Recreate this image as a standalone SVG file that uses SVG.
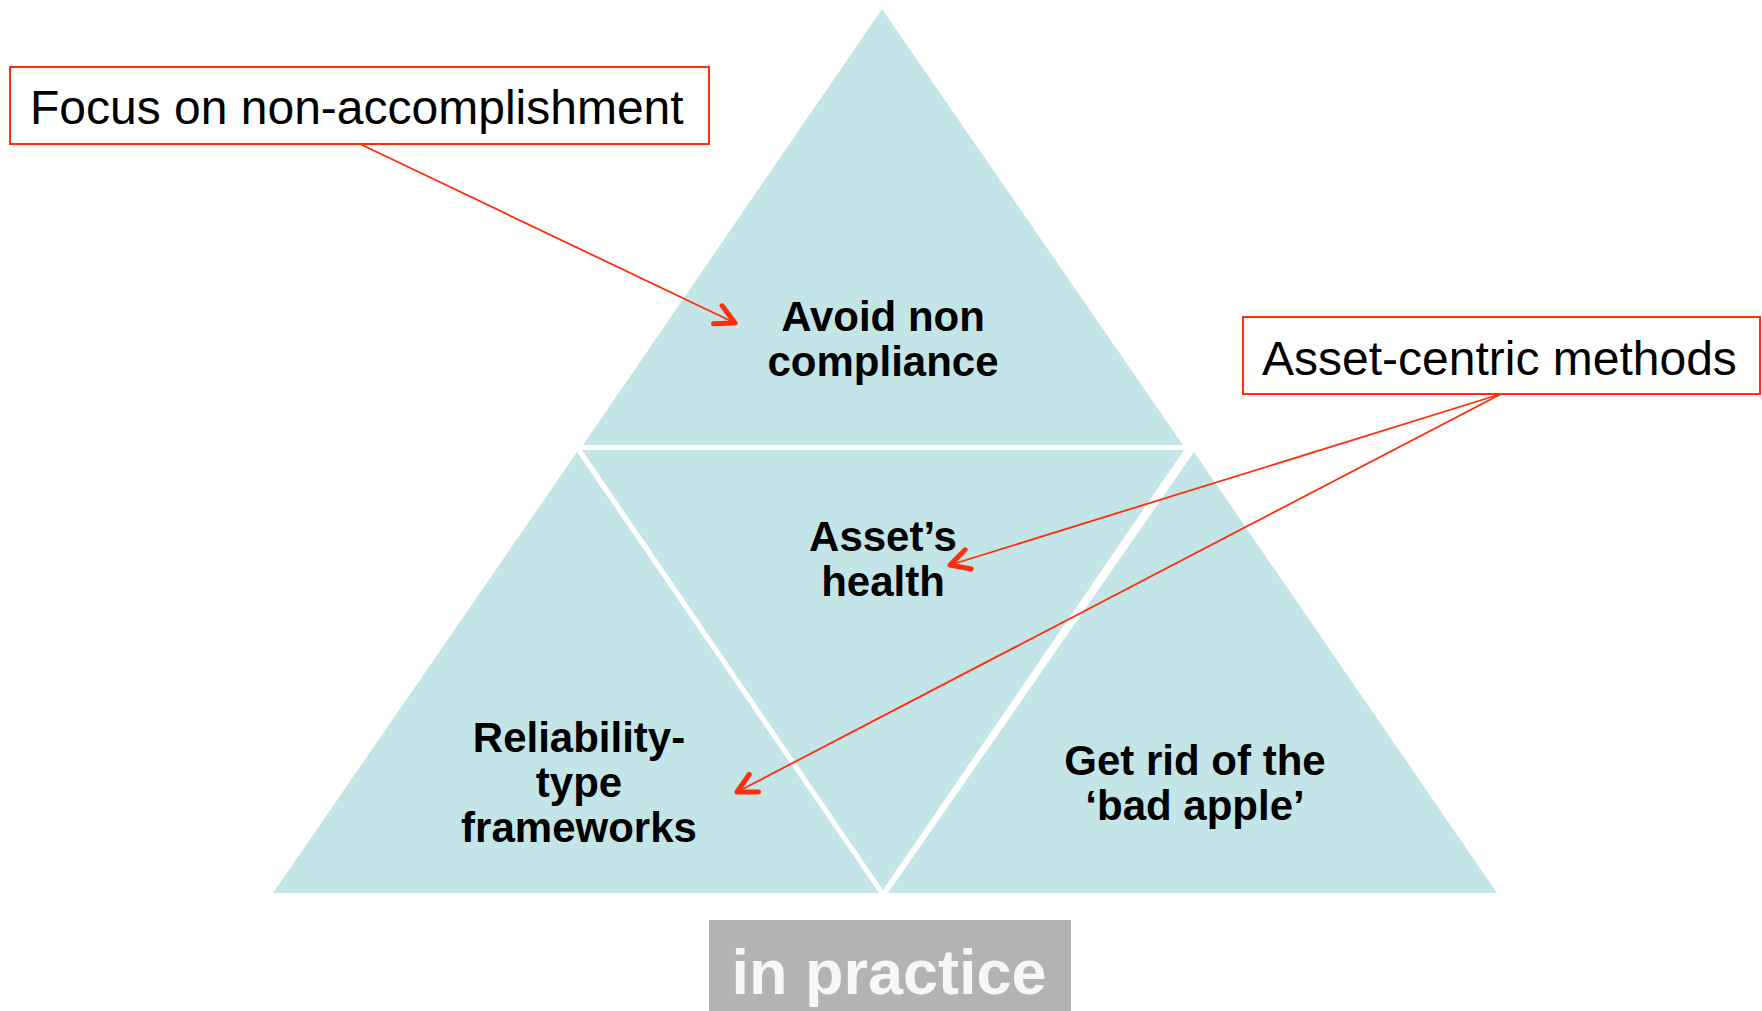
<svg xmlns="http://www.w3.org/2000/svg" width="1762" height="1011" viewBox="0 0 1762 1011">
<style>
.tri{fill:#C4E5E8;stroke:none}
.lbl{font-family:"Liberation Sans",Arial,sans-serif;font-weight:bold;font-size:42px;fill:#000;text-anchor:middle}
.box{fill:#fff;stroke:#FF2D0A;stroke-width:2}
.btxt{font-family:"Liberation Sans",Arial,sans-serif;font-size:48px;fill:#000}
.conn{fill:none;stroke:#FF2D0A;stroke-width:1.8}
</style>
<defs>
<marker id="arr" markerUnits="userSpaceOnUse" markerWidth="40" markerHeight="40" viewBox="-30 -20 40 40" refX="0" refY="0" orient="auto">
<path d="M-19,-10 L0,0 L-19,10" fill="none" stroke="#FF2D0A" stroke-width="5" stroke-linecap="round" stroke-linejoin="round"/>
</marker>
</defs>
<rect width="1762" height="1011" fill="#fff"/>
<g id="node-top">
<polygon class="tri" points="882,9 583,445 1183,445"/>
<text class="lbl" x="883" y="331">Avoid non</text>
<text class="lbl" x="883" y="376">compliance</text>
</g>
<g id="node-middle">
<polygon class="tri" points="582,450 1184,450 883,890"/>
<text class="lbl" x="883" y="551">Asset’s</text>
<text class="lbl" x="883" y="596">health</text>
</g>
<g id="node-left">
<polygon class="tri" points="577,452 273,893 879,893"/>
<text class="lbl" x="579" y="752">Reliability-</text>
<text class="lbl" x="579" y="797">type</text>
<text class="lbl" x="579" y="842">frameworks</text>
</g>
<g id="node-right">
<polygon class="tri" points="1194,452 888,893 1497,893"/>
<text class="lbl" x="1195" y="775">Get rid of the</text>
<text class="lbl" x="1195" y="820">‘bad apple’</text>
</g>
<g id="node-focus">
<rect class="box" x="10" y="67" width="699" height="77"/>
<text class="btxt" x="30" y="124">Focus on non-accomplishment</text>
</g>
<g id="node-asset">
<rect class="box" x="1243" y="317" width="517" height="77"/>
<text class="btxt" x="1262" y="375">Asset-centric methods</text>
</g>
<g id="node-practice">
<rect x="709" y="920" width="362" height="91" fill="#B3B3B3"/>
<text x="889" y="994" font-family="Liberation Sans,Arial,sans-serif" font-weight="bold" font-size="63" fill="#F7F7F7" text-anchor="middle">in practice</text>
</g>
<g id="connectors">
<line class="conn" x1="360" y1="144" x2="735" y2="323" marker-end="url(#arr)"/>
<line class="conn" x1="1501" y1="394" x2="950" y2="565" marker-end="url(#arr)"/>
<line class="conn" x1="1501" y1="394" x2="737" y2="792" marker-end="url(#arr)"/>
</g>
</svg>
